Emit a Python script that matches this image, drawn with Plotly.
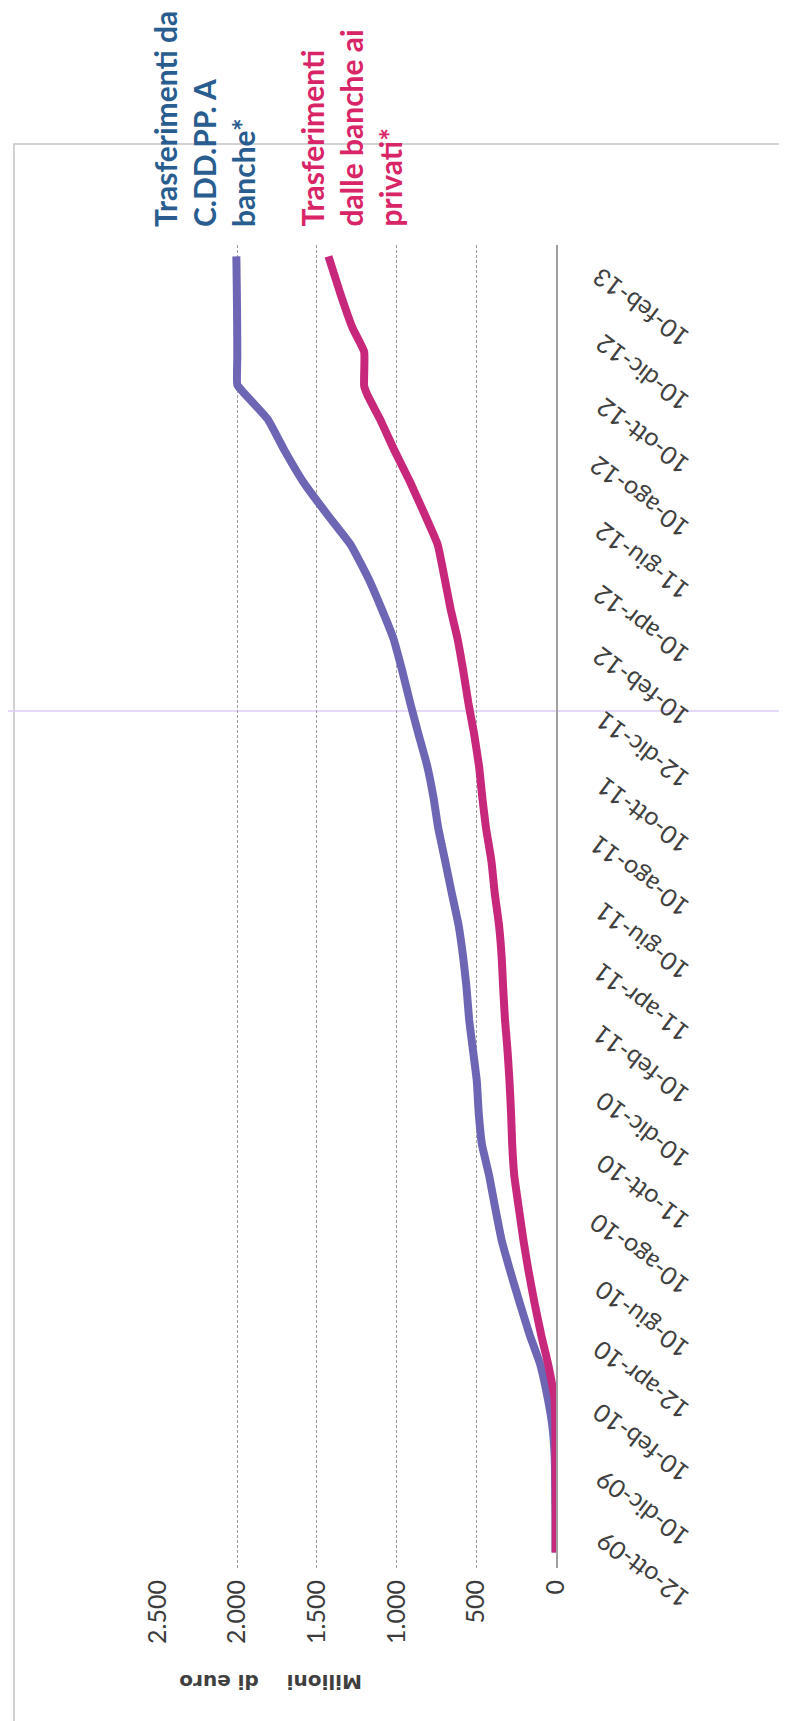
import plotly.graph_objects as go

# ---------------- data ----------------
tick_dates = ["2009-10-12", "2009-12-10", "2010-02-10", "2010-04-12", "2010-06-10",
              "2010-08-10", "2010-10-11", "2010-12-10", "2011-02-10", "2011-04-11",
              "2011-06-10", "2011-08-10", "2011-10-10", "2011-12-12", "2012-02-10",
              "2012-04-10", "2012-06-11", "2012-08-10", "2012-10-10", "2012-12-10",
              "2013-02-10"]
tick_labels = ["12-ott-09", "10-dic-09", "10-feb-10", "12-apr-10", "10-giu-10",
               "10-ago-10", "11-ott-10", "10-dic-10", "10-feb-11", "11-apr-11",
               "10-giu-11", "10-ago-11", "10-ott-11", "12-dic-11", "10-feb-12",
               "10-apr-12", "11-giu-12", "10-ago-12", "10-ott-12", "10-dic-12",
               "10-feb-13"]

value_ticks = [0, 500, 1000, 1500, 2000, 2500]
value_labels = ["0", "500", "1.000", "1.500", "2.000", "2.500"]

cdp_dates = ["2009-10-12", "2009-11-10", "2009-12-10", "2010-01-11", "2010-02-10",
             "2010-03-10", "2010-04-12", "2010-05-10", "2010-06-10", "2010-07-12",
             "2010-08-10", "2010-09-10", "2010-10-11", "2010-11-10", "2010-12-10",
             "2011-01-10", "2011-02-10", "2011-03-10", "2011-04-11", "2011-05-10",
             "2011-06-10", "2011-07-11", "2011-08-10", "2011-09-12", "2011-10-10",
             "2011-11-10", "2011-12-12", "2012-01-10", "2012-02-10", "2012-03-12",
             "2012-04-10", "2012-05-10", "2012-06-11", "2012-07-10", "2012-08-10",
             "2012-09-10", "2012-10-10", "2012-11-06", "2012-11-12", "2012-12-10",
             "2013-01-10", "2013-02-11", "2013-03-16"]
cdp_values = [3, 3, 5, 8, 22,
              52, 100, 165, 228, 290,
              342, 382, 420, 465, 485,
              497, 522, 545, 562, 583,
              612, 655, 695, 740, 768,
              808, 865, 915, 965, 1020,
              1095, 1180, 1290, 1436, 1585,
              1705, 1810, 1969, 2000, 2000,
              2001, 2003, 2006]

priv_dates = ["2009-10-12", "2009-11-10", "2009-12-10", "2010-01-11", "2010-02-10",
              "2010-03-10", "2010-04-12", "2010-05-10", "2010-06-10", "2010-07-12",
              "2010-08-10", "2010-09-10", "2010-10-11", "2010-11-10", "2010-12-10",
              "2011-01-10", "2011-02-10", "2011-03-10", "2011-04-11", "2011-05-10",
              "2011-06-10", "2011-07-11", "2011-08-10", "2011-09-12", "2011-10-10",
              "2011-11-10", "2011-12-12", "2012-01-10", "2012-02-10", "2012-03-12",
              "2012-04-10", "2012-05-10", "2012-06-11", "2012-07-10", "2012-08-10",
              "2012-09-10", "2012-10-10", "2012-11-02", "2012-11-11", "2012-12-14",
              "2013-01-06", "2013-02-07", "2013-03-16"]
priv_values = [2, 2, 2, 3, 4,
               10, 50, 93, 135, 174,
               205, 234, 262, 275, 282,
               292, 305, 320, 332, 341,
               358, 385, 405, 440, 462,
               483, 515, 550, 582, 618,
               662, 700, 743, 824, 915,
               1015, 1105, 1183, 1204, 1204,
               1277, 1351, 1428]

name_cdp = "Trasferimenti da<br>C.DD.PP. A<br>banche*"
name_priv = "Trasferimenti<br>dalle banche ai<br>privati*"
axis_title = "Milioni    di euro"

# ---------------- layout constants (pixels) ----------------
W, H = 787, 1721
PL, PR, PT, PB = 149, 548, 237, 1560     # plot area edges


def px_x(p):
    return (p - PL) / (PR - PL)


def px_y(p):
    return (PB - p) / (PB - PT)


fig = go.Figure()
fig.add_trace(go.Scatter(x=cdp_values, y=cdp_dates, mode="lines",
                         line=dict(color="#6C66B4", width=8, shape="spline", smoothing=0.4),
                         showlegend=False))
fig.add_trace(go.Scatter(x=priv_values, y=priv_dates, mode="lines",
                         line=dict(color="#C8287C", width=8, shape="spline", smoothing=0.4),
                         showlegend=False))

fig.update_layout(
    width=W, height=H,
    margin=dict(l=PL, r=W - PR, t=PT, b=H - PB, pad=0),
    paper_bgcolor="white", plot_bgcolor="white",
    showlegend=False,
    xaxis=dict(range=[2504, 0], tickvals=value_ticks, ticktext=value_labels,
               tickangle=-90, showgrid=True, gridcolor="#9E9E9E", gridwidth=1,
               griddash="3px,2px", zeroline=False, showline=False, ticks="",
               tickfont=dict(family="Lato", size=25, color="#3C3C3C"),
               ticklabelstandoff=6),
    yaxis=dict(type="date", range=["2009-09-27", "2013-03-27"], side="right",
               tickvals=tick_dates, ticktext=tick_labels, tickangle=-143,
               showgrid=False, showline=True, linecolor="#A0A0A0", linewidth=1.5,
               zeroline=False, ticks="",
               tickfont=dict(family="Lato", size=25, color="#404040"),
               ticklabelstandoff=121, ticklabelshift=56),
)

fig.add_annotation(text=name_cdp, textangle=-90, align="left",
                   xref="paper", yref="paper", x=px_x(137), y=px_y(221),
                   xanchor="left", yanchor="bottom", showarrow=False,
                   font=dict(family="Lato", size=30, color="#2A5D8F", weight="bold"))
fig.add_annotation(text=name_priv, textangle=-90, align="left",
                   xref="paper", yref="paper", x=px_x(284), y=px_y(221),
                   xanchor="left", yanchor="bottom", showarrow=False,
                   font=dict(family="Lato", size=30, color="#D92567", weight="bold"))
fig.add_annotation(text=axis_title, textangle=180,
                   xref="paper", yref="paper", x=px_x(263), y=px_y(1674),
                   xanchor="center", yanchor="middle", showarrow=False,
                   font=dict(family="DejaVu Sans", size=20, color="#3F3F3F", weight="bold"))

# outer chart frame
fig.add_shape(type="rect", xref="paper", yref="paper",
              x0=px_x(6), x1=px_x(782), y0=px_y(1714), y1=px_y(136),
              line=dict(color="#C4C4C4", width=1.5), layer="below")
# faint scan line across the page
fig.add_shape(type="line", xref="paper", yref="paper",
              x0=px_x(0), x1=px_x(787), y0=px_y(703), y1=px_y(703),
              line=dict(color="#DCCBF6", width=1.5), layer="below")

fig.write_html("out.html")
